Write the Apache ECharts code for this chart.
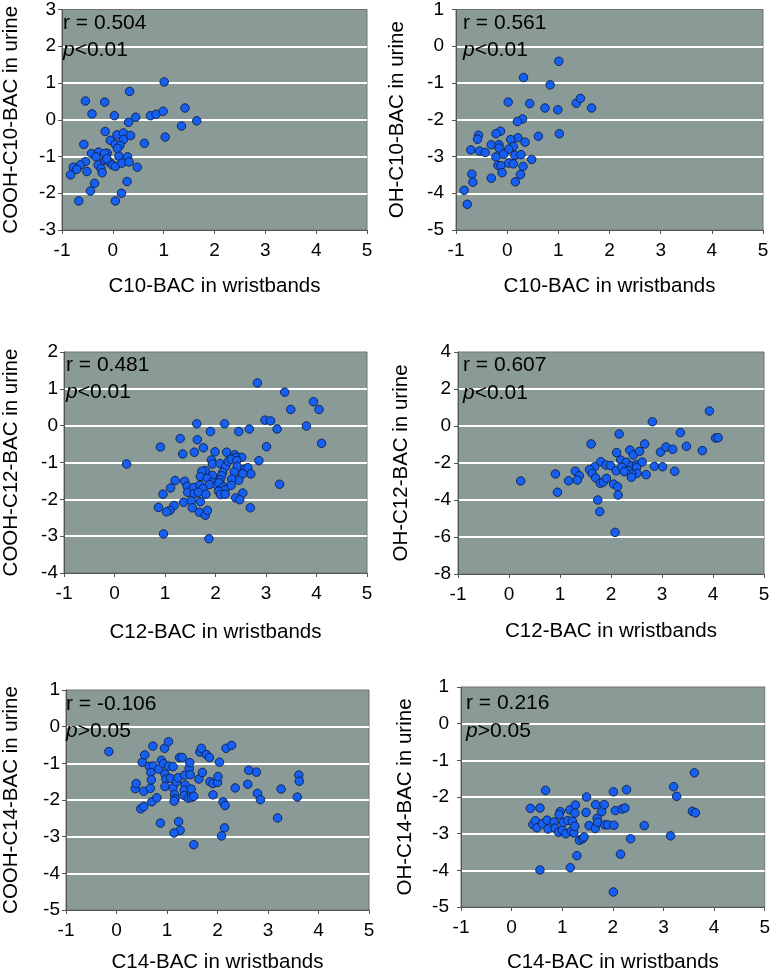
<!DOCTYPE html>
<html>
<head>
<meta charset="utf-8">
<script src="https://cdn.jsdelivr.net/npm/echarts@6/dist/echarts.min.js"></script>
<style>html,body{margin:0;background:#fff}#chart{width:773px;height:974px}</style>
</head>
<body>
<div id="chart"></div>
<script>
// values, [wristband, urine]
var coohC10 = [[1.01,1.03],[0.33,0.77],[-0.54,0.51],[-0.16,0.48],[-0.41,0.16],[0.03,0.11],[0.74,0.11],[0.85,0.15],
  [0.99,0.23],[1.42,0.32],[1.65,-0.03],[1.35,-0.17],[1.03,-0.47],[0.45,0.07],[0.31,-0.07],[-0.15,-0.32],[0.08,-0.41],
  [0.21,-0.36],[0.35,-0.43],[0.21,-0.54],[-0.05,-0.56],[0.05,-0.67],[0.14,-0.70],[0.09,-0.78],[0.62,-0.64],[-0.57,-0.67],
  [0.12,-0.99],[0.29,-1.01],[-0.42,-0.92],[-0.28,-0.88],[-0.11,-0.91],[-0.16,-0.92],[-0.33,-1.01],[-0.54,-1.14],
  [-0.64,-1.23],[-0.78,-1.29],[-0.71,-1.35],[-0.83,-1.50],[-0.51,-1.41],[-0.29,-1.23],[-0.23,-1.33],[-0.21,-1.44],
  [-0.16,-1.10],[-0.07,-1.15],[-0.01,-1.23],[0.05,-1.27],[0.18,-1.18],[0.32,-1.15],[0.48,-1.29],[0.28,-1.68],
  [-0.36,-1.73],[-0.44,-1.94],[0.17,-2.00],[-0.67,-2.21],[0.05,-2.21],[-0.12,-1.06]];

var ohC10 = [[1.01,-0.41],[0.32,-0.85],[0.84,-1.05],[0.02,-1.52],[0.44,-1.56],[0.74,-1.68],[0.99,-1.73],[1.35,-1.55],
  [1.43,-1.42],[1.65,-1.68],[0.30,-1.98],[0.20,-2.05],[1.02,-2.38],[0.61,-2.45],[0.21,-2.49],[0.07,-2.54],[0.35,-2.61],
  [0.12,-2.73],[-0.13,-2.31],[-0.22,-2.38],[-0.56,-2.42],[-0.58,-2.53],[-0.31,-2.68],[-0.16,-2.68],[-0.16,-2.77],
  [-0.71,-2.82],[-0.54,-2.85],[-0.43,-2.89],[0.03,-2.80],[-0.07,-2.94],[-0.22,-3.01],[0.15,-2.97],[0.27,-2.95],
  [0.48,-3.08],[-0.18,-3.24],[-0.12,-3.25],[0.03,-3.18],[0.12,-3.20],[0.31,-3.27],[-0.10,-3.44],[0.26,-3.49],
  [-0.69,-3.48],[-0.31,-3.59],[-0.67,-3.70],[0.16,-3.69],[-0.84,-3.92],[-0.78,-4.30]];

var coohC12 = [[2.83,1.16],[3.37,0.91],[3.94,0.65],[4.05,0.44],[3.49,0.44],[2.98,0.15],[3.09,0.13],[3.22,-0.09],
  [3.80,-0.01],[4.10,-0.48],[3.01,-0.57],[2.86,-0.95],[3.27,-1.59],[2.67,-0.09],[2.46,-0.16],[2.18,0.05],[1.63,0.05],
  [1.90,-0.16],[1.64,-0.38],[1.30,-0.35],[0.91,-0.58],[1.35,-0.77],[1.58,-0.72],[1.76,-0.60],[1.99,-0.71],[2.22,-0.72],
  [2.38,-0.79],[2.52,-0.86],[2.40,-0.87],[0.24,-1.04],[1.92,-0.93],[1.94,-1.04],[2.09,-1.03],[2.20,-1.11],[2.25,-0.97],
  [2.31,-0.91],[2.42,-0.95],[2.43,-1.11],[2.58,-1.18],[2.64,-1.14],[2.70,-1.31],[2.54,-1.31],[2.37,-1.26],[2.46,-1.48],
  [2.32,-1.45],[2.14,-1.27],[2.12,-1.36],[2.09,-1.47],[1.94,-1.35],[1.80,-1.22],[1.73,-1.24],[1.70,-1.38],[1.84,-1.43],
  [1.93,-1.54],[1.88,-1.60],[2.03,-1.61],[2.07,-1.55],[2.16,-1.66],[2.19,-1.74],[2.06,-1.78],[2.10,-1.87],[2.19,-1.86],
  [2.31,-1.62],[2.54,-1.83],[2.40,-1.96],[2.48,-2.01],[2.69,-2.23],[1.20,-1.49],[1.39,-1.51],[1.11,-1.69],[1.44,-1.65],
  [1.45,-1.81],[1.57,-1.68],[1.69,-1.61],[1.75,-1.71],[1.58,-1.85],[1.66,-1.81],[1.81,-1.86],[0.96,-1.86],[1.37,-2.08],
  [1.52,-2.04],[1.70,-2.06],[0.87,-2.22],[1.18,-2.17],[1.10,-2.30],[1.03,-2.34],[1.54,-2.23],[1.68,-2.35],[1.80,-2.43],
  [1.84,-2.30],[0.97,-2.94],[1.87,-3.07]];

var ohC12 = [[2.81,0.23],[3.93,0.81],[3.36,-0.36],[4.05,-0.65],[4.10,-0.63],[2.16,-0.43],[1.61,-0.97],[2.66,-0.97],
  [2.11,-1.44],[2.37,-1.30],[2.44,-1.57],[2.56,-1.37],[2.97,-1.41],[3.08,-1.14],[3.21,-1.26],[3.48,-1.10],[3.79,-1.33],
  [1.80,-1.93],[2.19,-1.84],[2.30,-1.96],[1.90,-2.11],[1.99,-2.14],[1.68,-2.20],[1.58,-2.36],[2.10,-2.42],[2.21,-2.23],
  [2.40,-2.16],[2.50,-2.09],[2.61,-1.95],[2.85,-2.18],[3.01,-2.20],[3.25,-2.45],[2.35,-2.42],[2.26,-2.47],[2.50,-2.25],
  [2.51,-2.56],[2.41,-2.61],[2.40,-2.77],[2.69,-2.63],[0.91,-2.59],[1.30,-2.45],[1.38,-2.69],[1.17,-2.96],[1.34,-2.92],
  [0.23,-2.97],[0.95,-3.58],[1.63,-2.56],[1.70,-2.81],[1.79,-3.10],[1.85,-3.03],[1.91,-2.83],[2.05,-3.14],[2.13,-3.28],
  [2.14,-3.73],[1.74,-4.00],[1.78,-4.63],[2.08,-5.75]];

var coohC14 = [[-0.15,-0.68],[0.37,-1.69],[0.39,-1.55],[0.48,-2.24],[0.54,-2.18],[0.51,-0.97],[0.56,-0.77],[0.54,-1.76],
  [0.67,-1.68],[0.72,-0.53],[0.65,-1.08],[0.73,-1.07],[0.68,-1.25],[0.69,-1.45],[0.70,-2.05],[0.80,-1.94],[0.84,-1.16],
  [0.89,-0.92],[0.93,-1.01],[0.95,-0.59],[0.96,-1.29],[0.98,-1.43],[0.96,-1.63],[1.03,-0.41],[1.03,-1.07],[1.07,-1.41],
  [1.12,-1.09],[1.12,-1.67],[1.15,-1.85],[1.16,-1.97],[1.14,-2.03],[1.19,-1.50],[1.22,-1.39],[1.25,-0.84],[1.30,-0.84],
  [1.35,-1.32],[1.36,-1.59],[1.34,-1.73],[1.34,-1.88],[1.42,-1.95],[1.44,-1.14],[1.45,-0.98],[1.46,-1.31],[1.48,-1.70],
  [1.48,-1.93],[1.53,-1.90],[1.53,-3.22],[1.63,-1.43],[1.65,-0.69],[1.68,-0.59],[1.70,-1.25],[1.78,-0.76],[1.84,-0.84],
  [1.85,-1.50],[1.91,-1.55],[1.91,-1.86],[2.00,-1.52],[2.01,-1.36],[2.04,-0.97],[2.11,-2.05],[2.15,-2.15],[2.14,-2.76],
  [2.08,-2.98],[2.17,-0.59],[2.28,-0.51],[2.35,-1.67],[2.60,-1.57],[2.62,-1.19],[2.77,-1.24],[2.79,-1.82],[2.85,-1.99],
  [3.19,-2.49],[3.26,-1.70],[3.61,-1.32],[3.62,-1.49],[3.58,-1.92],[0.87,-2.63],[1.23,-2.59],[1.26,-2.83],[1.14,-2.90]];

var ohC14 = [[0.37,-2.31],[0.56,-2.30],[0.67,-1.82],[0.42,-2.75],[0.47,-2.65],[0.50,-2.84],[0.61,-2.73],[0.70,-2.63],
  [0.72,-2.87],[0.84,-2.68],[0.86,-2.85],[0.93,-2.96],[0.96,-2.40],[0.94,-2.48],[1.00,-2.90],[1.02,-2.69],[1.07,-3.00],
  [1.11,-2.64],[1.15,-2.35],[1.18,-2.93],[1.20,-2.66],[1.23,-2.98],[1.25,-2.80],[1.26,-2.22],[1.25,-2.44],[1.29,-3.60],
  [1.16,-3.93],[0.56,-3.99],[1.34,-3.18],[1.40,-3.14],[1.43,-3.09],[1.47,-2.42],[1.48,-2.00],[1.53,-2.78],[1.65,-2.86],
  [1.66,-2.21],[1.69,-2.58],[1.70,-2.69],[1.78,-2.40],[1.83,-2.21],[1.84,-2.76],[1.90,-2.76],[2.01,-1.86],[2.02,-2.77],
  [2.05,-2.37],[2.18,-2.33],[2.24,-2.30],[2.27,-1.80],[2.15,-3.56],[2.35,-3.14],[2.01,-4.59],[2.62,-2.78],[3.14,-3.06],
  [3.20,-1.72],[3.26,-1.98],[3.57,-2.39],[3.63,-2.43],[3.61,-1.34]];

var xTicks = [-1, 5, 1];                      // min, max, interval
var yTicks = [[-3, 3, 1], [-5, 1, 1], [-4, 2, 1], [-8, 4, 2], [-5, 1, 1], [-5, 1, 1]];
var yNames = ['COOH-C10-BAC in urine', 'OH-C10-BAC in urine', 'COOH-C12-BAC in urine',
              'OH-C12-BAC in urine', 'COOH-C14-BAC in urine', 'OH-C14-BAC in urine'];
var xNames = ['C10-BAC in wristbands', 'C10-BAC in wristbands', 'C12-BAC in wristbands',
              'C12-BAC in wristbands', 'C14-BAC in wristbands', 'C14-BAC in wristbands'];
var rTexts = ['r = 0.504', 'r = 0.561', 'r = 0.481', 'r = 0.607', 'r = -0.106', 'r = 0.216'];
var pTexts = ['<0.01', '<0.01', '<0.01', '<0.01', '>0.05', '>0.05'];
var seriesData = [coohC10, ohC10, coohC12, ohC12, coohC14, ohC14];

// layout of each panel (pixels)
var boxes = [
  {left: 59, top: 9, width: 308, height: 221, yGap: 40, yMargin: 6, xGap: 46, ax: 4, ay: [16, 43]},
  {left: 456, top: 8, width: 307, height: 222, yGap: 48, yMargin: 12, xGap: 46, ax: 7, ay: [17, 44]},
  {left: 61, top: 352, width: 306, height: 221, yGap: 42, yMargin: 6, xGap: 49, ax: 5, ay: [15, 42]},
  {left: 458, top: 352, width: 306, height: 222, yGap: 46, yMargin: 7, xGap: 47, ax: 5, ay: [15, 43]},
  {left: 62, top: 690, width: 307, height: 223, yGap: 44, yMargin: 6, xGap: 42, ax: 4, ay: [16, 43]},
  {left: 461, top: 687, width: 307, height: 222, yGap: 45, yMargin: 12, xGap: 45, ax: 5, ay: [18, 46]}
];

var FONT = 'Liberation Sans, Arial, sans-serif';
var grids = [], xAxes = [], yAxes = [], series = [], graphics = [];

boxes.forEach(function (b, i) {
  grids.push({
    left: b.left, top: b.top, width: b.width, height: b.height,
    show: true, backgroundColor: '#8a9a96', borderColor: '#6e7470', borderWidth: 1
  });
  xAxes.push({
    gridIndex: i, type: 'value', min: xTicks[0], max: xTicks[1], interval: xTicks[2],
    name: xNames[i], nameLocation: 'middle', nameGap: b.xGap,
    nameTextStyle: {fontFamily: FONT, fontSize: 20.5, color: '#000'},
    axisLine: {onZero: false, lineStyle: {color: '#555', width: 1}},
    axisTick: {show: true, length: 4, lineStyle: {color: '#555'}},
    axisLabel: {fontFamily: FONT, fontSize: 19, color: '#000', margin: 11},
    splitLine: {show: false}
  });
  yAxes.push({
    gridIndex: i, type: 'value', min: yTicks[i][0], max: yTicks[i][1], interval: yTicks[i][2],
    name: yNames[i], nameLocation: 'middle', nameGap: b.yGap,
    nameTextStyle: {fontFamily: FONT, fontSize: 20.5, color: '#000'},
    axisLine: {onZero: false, lineStyle: {color: '#555', width: 1}},
    axisTick: {show: true, length: 4, lineStyle: {color: '#555'}},
    axisLabel: {fontFamily: FONT, fontSize: 19, color: '#000', margin: b.yMargin},
    splitLine: {show: true, showMinLine: false, showMaxLine: false, lineStyle: {color: '#ffffff', width: 2}}
  });
  series.push({
    type: 'scatter', xAxisIndex: i, yAxisIndex: i, data: seriesData[i],
    symbol: 'circle', symbolSize: 8.5, z: 3,
    itemStyle: {color: '#1560f2', borderColor: '#0d1f4a', borderWidth: 0.9, opacity: 1},
    emphasis: {disabled: true}
  });
  // annotation texts sit above the grid lines
  graphics.push({
    type: 'text', z: 100, left: b.left + b.ax, top: b.top + b.ay[0] - 12,
    style: {text: rTexts[i], font: '21px ' + FONT, fill: '#000'}
  });
  graphics.push({
    type: 'text', z: 100, left: b.left + b.ax, top: b.top + b.ay[1] - 12,
    style: {
      text: '{i|p}' + pTexts[i], fontFamily: FONT, fontSize: 21, fill: '#000',
      rich: {i: {fontStyle: 'italic', fontFamily: FONT, fontSize: 21, fill: '#000'}}
    }
  });
});

var myChart = echarts.init(document.getElementById('chart'));
myChart.setOption({
  animation: false,
  backgroundColor: '#ffffff',
  grid: grids, xAxis: xAxes, yAxis: yAxes, series: series, graphic: graphics
});
</script>
</body>
</html>
